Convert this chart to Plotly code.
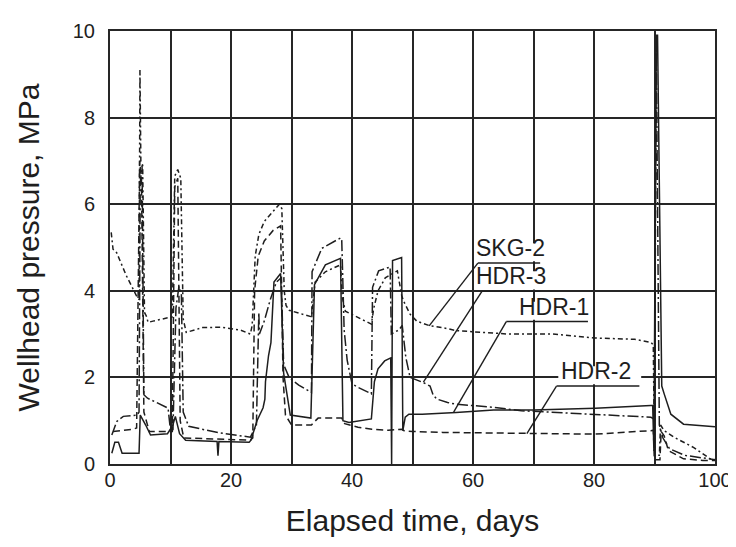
import plotly.graph_objects as go

# ---------------- data ----------------
skg2_t = [0.2, 0.5, 1.1, 2.7, 4.4, 4.8, 4.95, 5.1, 5.4, 5.7, 6.0, 6.3, 7.1, 10.0, 10.3, 10.7, 11.2, 11.7,
          12.1, 12.6, 15.3, 18.4, 21.6, 23.2, 23.5, 24.0, 24.6, 25.5, 27.0, 28.0, 28.4, 28.8, 29.1, 29.6,
          33.3, 33.9, 35.6, 38.1, 38.4, 38.9, 39.9, 43.2, 43.6, 44.3, 45.5, 47.5, 48.2, 48.5, 49.6, 50.7,
          52.9, 55.0, 57.2, 60.0, 66.0, 73.2, 80.2, 86.7, 89.4, 89.8, 90.0, 90.8, 91.0, 91.6, 93.2, 96.5,
          99.2, 100.0]
skg2_p = [5.35, 4.96, 4.88, 4.35, 3.88, 3.8, 9.1, 7.0, 6.9, 3.5, 3.42, 3.27, 3.3, 3.38, 3.4, 6.65, 6.8, 6.6,
          3.35, 3.04, 3.15, 3.16, 3.09, 3.0, 3.2, 4.8, 5.3, 5.6, 5.85, 6.0, 5.9, 4.0, 3.66, 3.55,
          3.4, 4.2, 4.44, 4.6, 3.85, 3.53, 3.46, 3.23, 3.6, 4.0, 4.3, 4.46, 3.9, 3.77, 3.46, 3.3,
          3.19, 3.15, 3.08, 3.05, 3.0, 3.0, 2.91, 2.88, 2.81, 2.75, 0.2, 0.2, 0.9, 0.77, 0.62, 0.38,
          0.12, 0.1]

hdr3_t = [0.3, 1.1, 2.2, 4.5, 4.8, 5.0, 5.3, 5.6, 6.2, 7.9, 9.6, 9.9, 10.4, 10.9, 11.4, 11.8, 12.1, 13.0,
          18.0, 23.2, 24.2, 24.6, 24.7, 25.5, 26.5, 27.5, 28.3, 28.7, 29.6, 31.2, 33.3, 33.4, 35.0, 38.1,
          38.3, 38.7, 39.2, 40.0, 41.0, 43.2, 43.4, 44.4, 46.0, 46.3, 46.5, 47.8, 48.3, 48.9, 49.6, 51.8,
          52.9, 53.4, 54.0, 55.8, 57.2, 63.4, 68.0, 80.2, 89.4, 89.8, 90.0, 90.3, 90.8, 91.4, 92.5, 95.0,
          100.0]
hdr3_p = [0.67, 0.98, 1.1, 1.13, 1.2, 6.5, 6.9, 1.6, 1.52, 1.4, 1.29, 0.9, 0.75, 3.6, 4.1, 3.9, 1.2, 0.87,
          0.72, 0.62, 0.9, 3.5, 3.0, 3.3, 3.8, 4.2, 4.3, 2.3, 2.0, 1.82, 1.65, 4.44, 4.98, 5.22,
          5.2, 3.1, 2.4, 1.85, 1.77, 1.62, 4.08, 4.46, 4.54, 4.55, 3.0, 3.1, 3.2, 2.46, 2.0, 1.88,
          1.8, 1.6, 1.5, 1.42, 1.38, 1.31, 1.23, 1.15, 1.08, 1.05, 1.0, 9.5, 0.9, 0.6, 0.35, 0.2,
          0.1]

hdr1_t = [0.3, 0.8, 1.4, 1.7, 2.0, 4.8, 4.9, 5.0, 5.9, 6.7, 9.5, 10.4, 10.8, 11.5, 12.5, 17.7, 17.85, 18.0,
          23.0, 23.3, 24.3, 25.3, 25.6, 25.7, 26.2, 26.6, 27.1, 28.2, 28.7, 29.8, 33.2, 33.8, 35.6, 38.1,
          38.5, 39.5, 43.2, 43.7, 44.3, 45.4, 46.4, 46.55, 46.7, 48.2, 48.4, 48.8, 49.4, 51.6, 57.2, 63.4,
          70.0, 80.2, 89.4, 89.7, 89.9, 90.3, 90.5, 91.2, 91.6, 92.7, 94.8, 98.0, 100.0]
hdr1_p = [0.25, 0.5, 0.5, 0.35, 0.25, 0.25, 0.9, 1.13, 0.9, 0.67, 0.7, 0.9, 1.1, 0.7, 0.55, 0.52, 0.19, 0.52,
          0.5, 0.55, 1.0, 1.3, 1.5, 1.9, 2.5, 2.8, 4.2, 4.4, 2.1, 1.13, 1.06, 4.14, 4.6, 4.75,
          1.0, 0.96, 1.04, 1.9, 2.2, 2.38, 2.45, 0.0, 4.7, 4.77, 0.77, 1.08, 1.15, 1.15, 1.19, 1.25,
          1.25, 1.29, 1.35, 1.35, 0.3, 9.9, 9.9, 1.8, 1.62, 1.15, 0.92, 0.88, 0.86]

hdr2_t = [0.5, 3.7, 4.4, 4.9, 5.2, 5.6, 6.5, 10.3, 10.7, 11.2, 11.6, 12.2, 17.0, 23.2, 23.6, 23.9, 24.5, 25.5,
          27.0, 28.2, 28.6, 29.0, 30.0, 33.3, 33.6, 34.4, 38.3, 38.8, 41.0, 43.3, 46.0, 48.3, 48.6, 50.0,
          55.0, 65.7, 72.0, 80.2, 89.4, 89.8, 90.0, 90.9, 91.1, 91.6, 92.3, 94.8, 98.0, 100.0]
hdr2_p = [0.75, 0.8, 0.83, 7.0, 6.6, 1.2, 0.75, 0.75, 6.4, 6.6, 1.0, 0.6, 0.58, 0.55, 0.6, 4.0, 4.8, 5.15,
          5.4, 5.5, 2.0, 1.13, 0.9, 0.9, 0.95, 1.06, 1.06, 0.93, 0.85, 0.8, 0.78, 0.8, 0.77, 0.75,
          0.73, 0.72, 0.70, 0.69, 0.77, 0.78, 0.1, 0.1, 0.75, 0.65, 0.31, 0.12, 0.08, 0.08]

x_tick_vals = [0, 10, 20, 30, 40, 50, 60, 70, 80, 90, 100]
x_tick_text = ["0", "", "20", "", "40", "", "60", "", "80", "", "100"]
y_tick_vals = [0, 2, 4, 6, 8, 10]
y_tick_text = ["0", "2", "4", "6", "8", "10"]

# callout labels: text left edge (t), underline level (P), underline span (t), curve point of leader (t, P)
label_names = ["SKG-2", "HDR-3", "HDR-1", "HDR-2"]
label_left_t = [60.4, 60.4, 67.4, 74.3]
underline_p = [4.64, 3.99, 3.29, 1.80]
underline_t0 = [60.8, 61.5, 65.5, 73.8]
underline_t1 = [71.1, 71.1, 79.0, 87.5]
leader_to_t = [52.75, 51.8, 56.8, 68.9]
leader_to_p = [3.19, 1.89, 1.20, 0.70]

INK = "#1e1e1e"
FONT = "Liberation Sans, Arial, Helvetica, sans-serif"
fig = go.Figure()

series = [
    ("SKG-2", skg2_t, skg2_p, "5px,3px,2px,3px"),
    ("HDR-3", hdr3_t, hdr3_p, "11px,3px,2px,3px"),
    ("HDR-1", hdr1_t, hdr1_p, "solid"),
    ("HDR-2", hdr2_t, hdr2_p, "7px,4px"),
]
for name, t, p, dash in series:
    fig.add_trace(go.Scatter(x=t, y=p, mode="lines", name=name,
                             line=dict(color=INK, width=1.5, dash=dash),
                             showlegend=False))

# white patches behind the callout texts (they interrupt the grid in the reference)
for i, nm in enumerate(label_names):
    fig.add_shape(type="rect", xref="x", yref="y",
                  x0=label_left_t[i] - 0.2, x1=underline_t1[i] + 0.3,
                  y0=underline_p[i] + 0.04, y1=underline_p[i] + 0.46,
                  fillcolor="white", line=dict(width=0), layer="above")
for i, nm in enumerate(label_names):
    fig.add_shape(type="line", xref="x", yref="y",
                  x0=underline_t0[i], y0=underline_p[i], x1=underline_t1[i], y1=underline_p[i],
                  line=dict(color=INK, width=1.5), layer="above")
    fig.add_shape(type="line", xref="x", yref="y",
                  x0=underline_t0[i], y0=underline_p[i], x1=leader_to_t[i], y1=leader_to_p[i],
                  line=dict(color=INK, width=1.4), layer="above")
    fig.add_annotation(x=label_left_t[i], y=underline_p[i] + 0.02, xref="x", yref="y",
                       text=nm, showarrow=False, xanchor="left", yanchor="bottom",
                       font=dict(family=FONT, size=23, color=INK), borderpad=0)

fig.update_layout(
    width=736, height=547,
    margin=dict(l=102, r=18, t=21, b=91),
    paper_bgcolor="white", plot_bgcolor="white",
    font=dict(family=FONT, color=INK),
    xaxis=dict(range=[0, 100], tickmode="array", tickvals=x_tick_vals, ticktext=x_tick_text,
               showgrid=True, gridcolor="#262626", gridwidth=1.8, zeroline=False,
               showline=True, linecolor="#262626", linewidth=2, mirror=True,
               ticks="", tickfont=dict(size=20), ticklabelstandoff=-3, ticklabeloverflow="allow",
               title=dict(text="Elapsed time, days", font=dict(size=30), standoff=20)),
    yaxis=dict(range=[0, 10], tickmode="array", tickvals=y_tick_vals, ticktext=y_tick_text,
               showgrid=True, gridcolor="#262626", gridwidth=1.8, zeroline=False,
               showline=True, linecolor="#262626", linewidth=2, mirror=True,
               ticks="", tickfont=dict(size=20), ticklabelstandoff=9, ticklabeloverflow="allow",
               title=dict(text="Wellhead pressure, MPa", font=dict(size=30), standoff=24)),
)

fig.write_html("out.html")
